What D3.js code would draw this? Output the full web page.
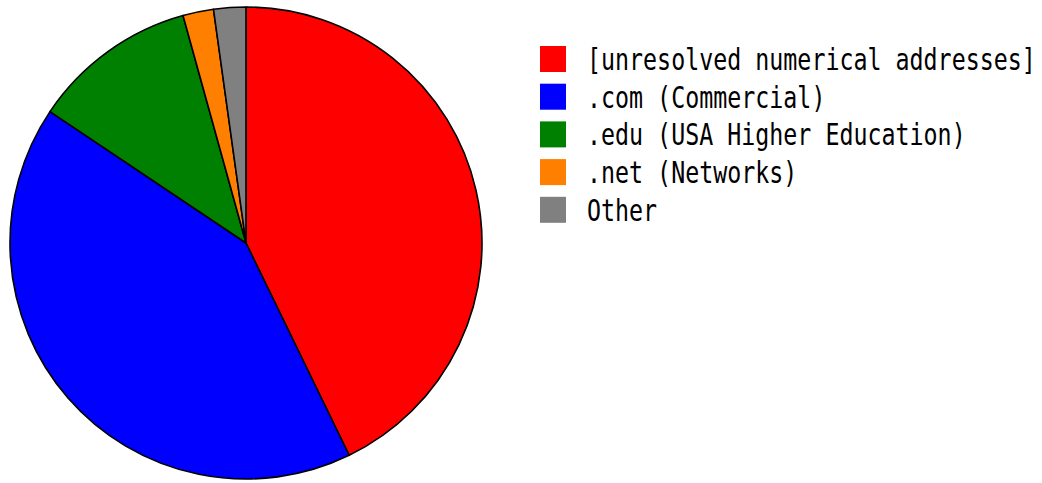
<!DOCTYPE html>
<html>
<head>
<meta charset="utf-8">
<script src="https://cdn.jsdelivr.net/npm/d3@7"></script>
<style>
  html, body { margin: 0; padding: 0; background: #fff; }
  svg { display: block; }
</style>
</head>
<body>
<svg id="chart" width="1042" height="483"></svg>
<script>
// Share of hits by top-level domain (percent)
const categories = [
  "[unresolved numerical addresses]",
  ".com (Commercial)",
  ".edu (USA Higher Education)",
  ".net (Networks)",
  "Other"
];
const shares = [42.8, 41.6, 11.3, 2.1, 2.2];
const colors = ["#ff0000", "#0000ff", "#008000", "#ff8000", "#808080"];

const data = categories.map((c, i) => ({ label: c, value: shares[i] }));

const svg = d3.select("#chart");
const cx = 246, cy = 243, r = 236;

const color = d3.scaleOrdinal().domain(categories).range(colors);

const pie = d3.pie().sort(null).value(d => d.value);
const arc = d3.arc().innerRadius(0).outerRadius(r);

const g = svg.append("g").attr("transform", `translate(${cx},${cy})`);
g.selectAll("path")
  .data(pie(data))
  .join("path")
  .attr("d", arc)
  .attr("fill", d => color(d.data.label))
  .attr("stroke", "#000")
  .attr("stroke-width", 1.6)
  .attr("stroke-linejoin", "round");

// Legend
const legendX = 540, legendY = 46, rowH = 37.7, box = 26;
const legend = svg.append("g");
const rows = legend.selectAll("g")
  .data(data)
  .join("g")
  .attr("transform", (d, i) => `translate(${legendX},${legendY + i * rowH})`);

rows.append("rect")
  .attr("width", box)
  .attr("height", box)
  .attr("fill", d => color(d.label));

rows.append("text")
  .attr("transform", "translate(47,24) scale(1,1.3)")
  .attr("font-family", "'DejaVu Sans Mono', 'Liberation Mono', monospace")
  .attr("font-size", 23.3)
  .attr("fill", "#000")
  .text(d => d.label);
</script>
</body>
</html>
